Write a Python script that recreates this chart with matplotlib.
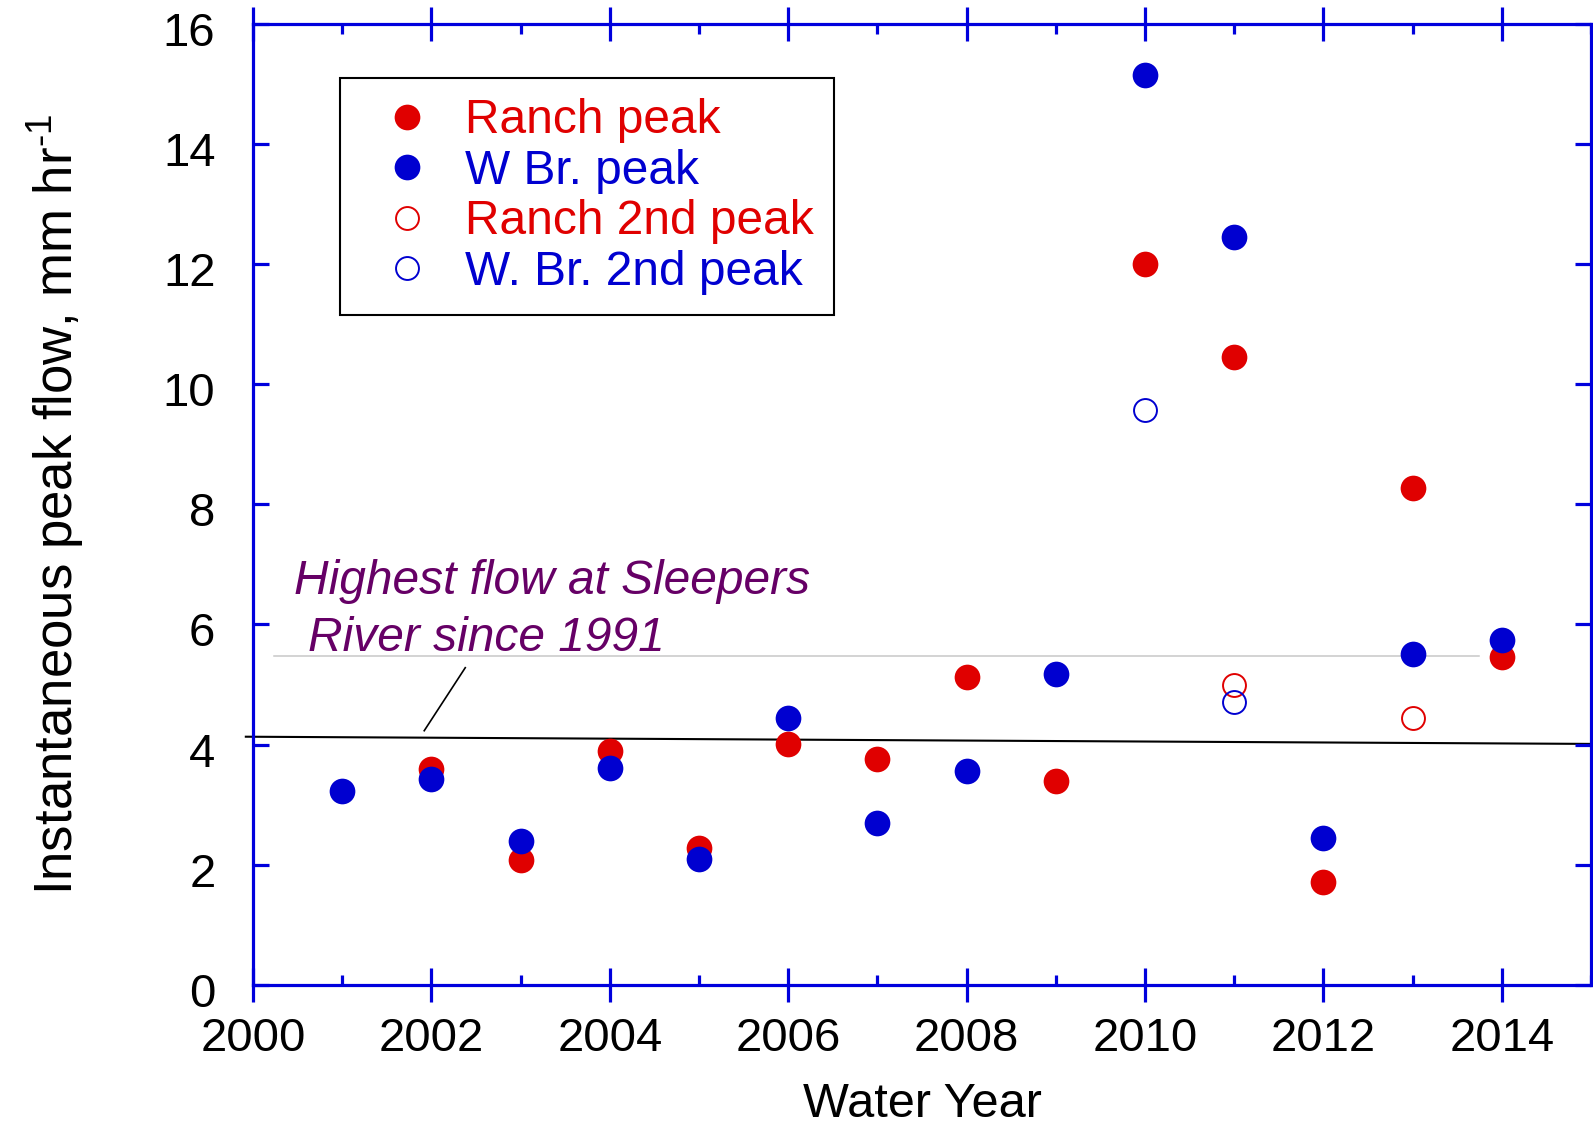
import matplotlib
matplotlib.use("Agg")
import matplotlib.pyplot as plt
from matplotlib.ticker import MultipleLocator
from matplotlib.transforms import ScaledTranslation

plt.rcParams["font.family"] = ["Liberation Sans", "DejaVu Sans"]
plt.rcParams["mathtext.fontset"] = "custom"
plt.rcParams["mathtext.rm"] = "Liberation Sans"
plt.rcParams["mathtext.default"] = "regular"

# Annual instantaneous peak flows (mm/hr)
ranch_years = [2002, 2003, 2004, 2005, 2006, 2007, 2008, 2009, 2010, 2011, 2012, 2013, 2014]
ranch_peak = [3.59, 2.08, 3.89, 2.27, 4.01, 3.76, 5.13, 3.39, 12.0, 10.45, 1.71, 8.28, 5.45]

wbr_years = [2001, 2002, 2003, 2004, 2005, 2006, 2007, 2008, 2009, 2010, 2011, 2012, 2013, 2014]
wbr_peak = [3.22, 3.42, 2.40, 3.61, 2.10, 4.44, 2.69, 3.56, 5.18, 15.15, 12.45, 2.44, 5.50, 5.74]

ranch_2nd_years = [2011, 2013]
ranch_2nd = [4.99, 4.45]

wbr_2nd_years = [2010, 2011]
wbr_2nd = [9.58, 4.71]

# Reference lines
record_x = [1999.92, 2015.0]
record_y = [4.13, 4.01]
gray_x = [2000.24, 2013.74]
gray_y = [5.47, 5.47]
pointer_x = [2002.38, 2001.92]
pointer_y = [5.28, 4.23]

RED = "#e00000"
BLUE = "#0000d0"
PURPLE = "#660066"
AXBLUE = "#0000dd"

fig = plt.figure(figsize=(15.93, 11.31), dpi=100)
ax = fig.add_axes([0.1588, 0.1295, 0.9987 - 0.1588, 0.9784 - 0.1295])

ax.plot(gray_x, gray_y, color="#c8c8c8", lw=1.1, zorder=1)
ax.plot(record_x, record_y, color="black", lw=1.5, zorder=1, clip_on=False)
ax.plot(pointer_x, pointer_y, color="black", lw=1.2, zorder=1)

ms_fill = 18.5
ms_open = 16.5
ax.plot(ranch_years, ranch_peak, "o", color=RED, ms=ms_fill, mec="none",
        label="Ranch peak", zorder=3)
ax.plot(wbr_years, wbr_peak, "o", color=BLUE, ms=ms_fill, mec="none",
        label="W Br. peak", zorder=4)
ax.plot(ranch_2nd_years, ranch_2nd, "o", mfc="none", mec=RED, mew=1.4, ms=ms_open,
        label="Ranch 2nd peak", zorder=5)
ax.plot(wbr_2nd_years, wbr_2nd, "o", mfc="none", mec=BLUE, mew=1.4, ms=ms_open,
        label="W. Br. 2nd peak", zorder=6)

ax.set_xlim(2000, 2015)
ax.set_ylim(0, 16)

for s in ax.spines.values():
    s.set_color(AXBLUE)
    s.set_linewidth(2.3)

ax.xaxis.set_major_locator(MultipleLocator(2))
ax.xaxis.set_minor_locator(MultipleLocator(1))
ax.yaxis.set_major_locator(MultipleLocator(2))

ax.tick_params(axis="x", which="major", direction="inout", length=25, width=2.3,
               color=AXBLUE, top=True, labelsize=34, pad=11, labelcolor="black")
ax.tick_params(axis="x", which="minor", direction="in", length=7, width=2.3,
               color=AXBLUE, top=True)
ax.tick_params(axis="y", which="major", direction="in", length=11.5, width=2.3,
               color=AXBLUE, right=True, labelsize=34, pad=27, labelcolor="black")

# y tick labels sit slightly below their ticks
shift = ScaledTranslation(0, -5 / 100, fig.dpi_scale_trans)
for lbl in ax.get_yticklabels():
    lbl.set_transform(lbl.get_transform() + shift)

ax.set_xlabel("Water Year", fontsize=35)
ax.set_ylabel(r"Instantaneous peak flow, mm hr$^{\text{-}1}$", fontsize=38)
ax.xaxis.set_label_coords(0.5, -0.102)
ax.yaxis.set_label_coords(-0.125, 0.5)

ax.text(2000.456, 6.50, "Highest flow at Sleepers", fontsize=34.5, style="italic",
        color=PURPLE, ha="left", va="baseline")
ax.text(2000.615, 5.55, "River since 1991", fontsize=34.5, style="italic",
        color=PURPLE, ha="left", va="baseline")

leg = ax.legend(loc="upper left", bbox_to_anchor=(0.0653, 0.944), borderaxespad=0,
                fontsize=34.5, frameon=True, fancybox=False, framealpha=1,
                edgecolor="black", borderpad=0.42, handlelength=1.96,
                handletextpad=0.22, labelspacing=0.115, numpoints=1)
leg.get_frame().set_linewidth(1.5)
for txt, c in zip(leg.get_texts(), [RED, BLUE, RED, BLUE]):
    txt.set_color(c)

fig.savefig("out.png", dpi=100)
